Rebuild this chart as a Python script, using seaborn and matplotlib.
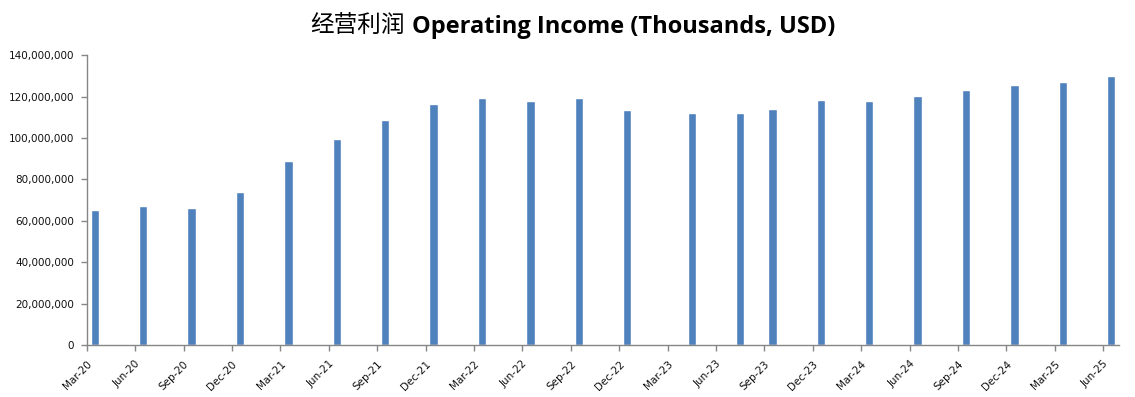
import pandas as pd
import numpy as np
import seaborn as sns
import matplotlib.pyplot as plt
from matplotlib.ticker import FuncFormatter
from matplotlib.transforms import ScaledTranslation

# Werte (Datum = Monat des Balkens)
bar_months = ["2020-03", "2020-06", "2020-09", "2020-12",
              "2021-03", "2021-06", "2021-09", "2021-12",
              "2022-03", "2022-06", "2022-09", "2022-12",
              "2023-04", "2023-07", "2023-09", "2023-12",
              "2024-03", "2024-06", "2024-09", "2024-12",
              "2025-03", "2025-06"]
income = [65200000, 67200000, 66200000, 74000000,
          88900000, 99600000, 108700000, 116500000,
          119400000, 117900000, 119400000, 113600000,
          112100000, 112100000, 114100000, 118400000,
          117900000, 120300000, 123200000, 125700000,
          127100000, 130000000]
tick_labels = ["Mar-20", "Jun-20", "Sep-20", "Dec-20", "Mar-21", "Jun-21",
               "Sep-21", "Dec-21", "Mar-22", "Jun-22", "Sep-22", "Dec-22",
               "Mar-23", "Jun-23", "Sep-23", "Dec-23", "Mar-24", "Jun-24",
               "Sep-24", "Dec-24", "Mar-25", "Jun-25"]

# Monate seit Mar-20, Balken in der Mitte des Monats
start = pd.Period("2020-03", freq="M")
df = pd.DataFrame({"monat": bar_months, "wert": income})
df["x"] = [(pd.Period(m, freq="M") - start).n + 0.5 for m in df["monat"]]

sns.set_style("white")
plt.rcParams["font.family"] = ["DejaVu Sans", "Noto Sans CJK SC"]

fig = plt.figure(figsize=(11.35, 3.97), dpi=100)
ax = fig.add_axes([0.0764, 0.131, 0.9098, 0.730])

sns.barplot(data=df, x="x", y="wert", native_scale=True, color="#4F81BD",
            saturation=1, width=0.26, ax=ax)

ax.set_xlim(0, 64)
ax.set_ylim(0, 140000000)
ax.set_yticks(np.arange(0, 140000001, 20000000))
ax.yaxis.set_major_formatter(FuncFormatter(lambda v, p: f"{v:,.0f}"))
ax.set_xticks(np.arange(0, 64, 3))
ax.set_xticklabels(tick_labels, rotation=45, ha="right", rotation_mode="anchor")
ax.set_xlabel("")
ax.set_ylabel("")

# Beschriftungen wie in Excel etwas nach rechts versetzt
shift = ScaledTranslation(9 / 100, 0, fig.dpi_scale_trans)
for lbl in ax.get_xticklabels():
    lbl.set_transform(lbl.get_transform() + shift)

for s in ["top", "right"]:
    ax.spines[s].set_visible(False)
for s in ["left", "bottom"]:
    ax.spines[s].set_color("#868686")
    ax.spines[s].set_linewidth(1.0)
ax.tick_params(axis="both", which="major", direction="out", length=4,
               width=1, color="#868686", labelsize=7.5, labelcolor="#111111",
               left=True, bottom=True)
ax.tick_params(axis="y", pad=5)
ax.tick_params(axis="x", pad=6)

# Titel: Chinesisch normal, Englisch fett
fig.text(0.3568, 0.918, "经营利润", ha="right", va="baseline", fontsize=17,
         family=["Noto Sans CJK SC", "DejaVu Sans"], color="black")
fig.text(0.3630, 0.918, "Operating Income (Thousands, USD)", ha="left",
         va="baseline", fontsize=17, fontweight="bold",
         family=["Open Sans", "DejaVu Sans"], color="black")

fig.savefig("out.png", dpi=100)
